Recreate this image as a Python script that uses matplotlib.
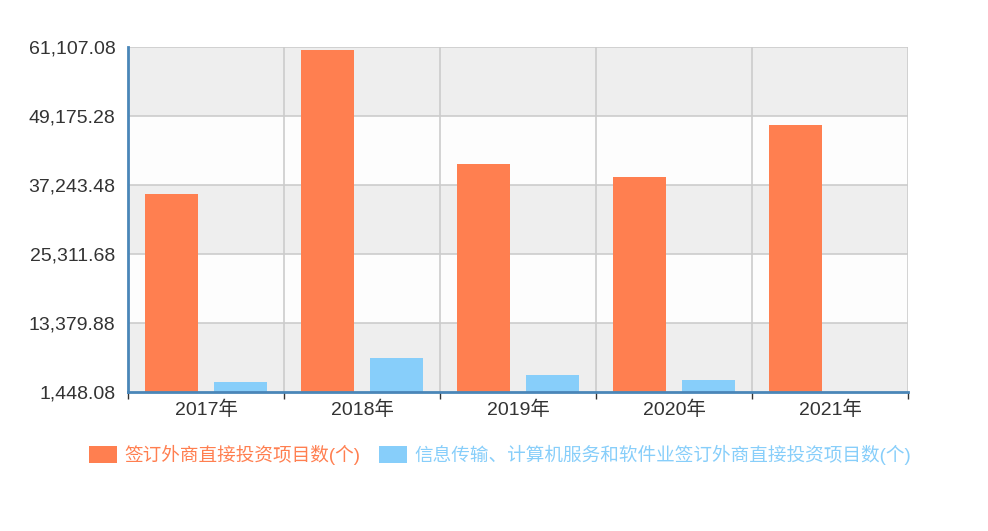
import matplotlib.pyplot as plt
import numpy as np
from matplotlib.patches import Patch
from matplotlib.ticker import FixedLocator

plt.rcParams['font.family'] = ['Liberation Sans', 'Noto Sans CJK SC', 'DejaVu Sans']

# 数据
years = ['2017年', '2018年', '2019年', '2020年', '2021年']
total_projects = [35652, 60533, 40888, 38570, 47643]
it_projects = [3170, 7250, 4300, 3450, 0]
label_total = '签订外商直接投资项目数(个)'
label_it = '信息传输、计算机服务和软件业签订外商直接投资项目数(个)'

y_min, y_max = 1448.08, 61107.08
y_ticks = [1448.08, 13379.88, 25311.68, 37243.48, 49175.28, 61107.08]

c_orange = '#FF7F50'
c_blue = '#87CEFA'
c_axis = '#4A86B8'

fig = plt.figure(figsize=(9.88, 5.31), dpi=100)
ax = fig.add_axes([0.1296, 0.2618, 0.7895, 0.6497])

# 交替背景条
for i in range(len(y_ticks) - 1):
    color = '#EEEEEE' if i % 2 == 0 else '#FDFDFD'
    ax.axhspan(y_ticks[i], y_ticks[i + 1], color=color, zorder=0, lw=0)
for t in y_ticks[1:]:
    ax.axhline(t, color='#CCCCCC', lw=1.2, zorder=1)
for b in np.arange(0.5, len(years) + 0.5, 1.0):
    ax.axvline(b, color='#CCCCCC', lw=1.2, zorder=1)

x = np.arange(len(years))
w = 0.34
ax.bar(x - 0.22, total_projects, w, color=c_orange, zorder=2)
ax.bar(x + 0.22, it_projects, w, color=c_blue, zorder=2)

ax.set_xlim(-0.5, len(years) - 0.5)
ax.set_ylim(y_min, y_max)
ax.set_yticks(y_ticks)
ax.set_yticklabels([f'{v:,.2f}' for v in y_ticks], fontsize=14, color='#333333')
ax.tick_params(axis='y', length=0, pad=9)

ax.set_xticks(x)
ax.set_xticklabels(years, fontsize=14, color='#333333')
ax.xaxis.set_minor_locator(FixedLocator(np.arange(-0.5, len(years), 1.0)))
ax.tick_params(axis='x', which='major', length=0, pad=6)
ax.tick_params(axis='x', which='minor', length=5, width=1, color='#333333')

for s in ['top', 'right']:
    ax.spines[s].set_visible(False)
ax.spines['left'].set_color(c_axis)
ax.spines['left'].set_linewidth(2)
ax.spines['bottom'].set_color(c_axis)
ax.spines['bottom'].set_linewidth(2)

handles = [Patch(facecolor=c_orange, edgecolor='none'),
           Patch(facecolor=c_blue, edgecolor='none')]
leg = fig.legend(handles, [label_total, label_it], loc='center',
                 bbox_to_anchor=(0.506, 0.143), ncol=2, frameon=False,
                 fontsize=13.4, handlelength=1.5, handleheight=1.0,
                 handletextpad=0.4, columnspacing=1.0)
for txt, c in zip(leg.get_texts(), [c_orange, c_blue]):
    txt.set_color(c)

plt.savefig('out.png', dpi=100)
